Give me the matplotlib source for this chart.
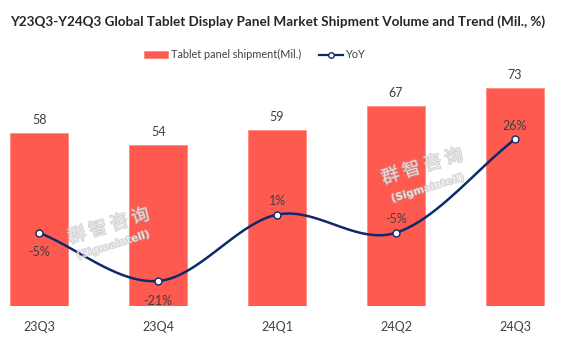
import matplotlib.pyplot as plt
import matplotlib.patheffects as pe
import numpy as np

quarters = ['23Q3', '23Q4', '24Q1', '24Q2', '24Q3']
shipment = [58, 54, 59, 67, 73]
yoy = [-5, -21, 1, -5, 26]

bar_color = '#FF5A4F'
line_color = '#0F2A6B'
text_color = '#404040'
font = 'Lato'


def smooth(xs, ys, n=30):
    # catmull-rom style smoothing, similar to excel's smoothed line
    xs = np.asarray(xs, float)
    ys = np.asarray(ys, float)
    px = np.concatenate([[2 * xs[0] - xs[1]], xs, [2 * xs[-1] - xs[-2]]])
    py = np.concatenate([[2 * ys[0] - ys[1]], ys, [2 * ys[-1] - ys[-2]]])
    outx, outy = [], []
    for i in range(1, len(px) - 2):
        t = np.linspace(0, 1, n)
        for p, out in ((px, outx), (py, outy)):
            p0, p1, p2, p3 = p[i - 1], p[i], p[i + 1], p[i + 2]
            m1 = (p2 - p0) / 2
            m2 = (p3 - p1) / 2
            h = (2 * t**3 - 3 * t**2 + 1) * p1 + (t**3 - 2 * t**2 + t) * m1 \
                + (-2 * t**3 + 3 * t**2) * p2 + (t**3 - t**2) * m2
            out.extend(h)
    return outx, outy


fig = plt.figure(figsize=(5.72, 3.47), dpi=100)
ax = fig.add_axes([0, 0.118, 1, 0.68])
x = np.arange(len(quarters))

ax.bar(x, shipment, width=0.49, color=bar_color, edgecolor='#FF8A80', linewidth=0.6,
       label='Tablet panel shipment(Mil.)', zorder=2)
for xi, v in zip(x, shipment):
    ax.text(xi, v + 2.2, str(v), ha='center', va='bottom', fontsize=9,
            color=text_color, family=font)
ax.set_xlim(-0.33, 4.48)
ax.set_ylim(0, 79)
ax.set_xticks(x)
ax.set_xticklabels(quarters, fontsize=9, color=text_color, family=font)
ax.tick_params(axis='x', length=0, pad=11)
ax.set_yticks([])
for s in ax.spines.values():
    s.set_visible(False)

ax2 = ax.twinx()
sx, sy = smooth(x, yoy)
ax2.plot(sx, sy, color=line_color, lw=1.8, zorder=3)
ax2.plot(x, yoy, 'o', color=line_color, mfc='white', mec=line_color, ms=5, mew=1,
         zorder=4)
ax2.plot([], [], '-o', color=line_color, mfc='white', ms=4, lw=1.6, label='YoY')
ax2.set_ylim(-29.3, 48.9)
ax2.set_yticks([])
for s in ax2.spines.values():
    s.set_visible(False)

offsets = [-6.5, -6.5, 4.5, 4.5, 4.5]
for xi, v, off in zip(x, yoy, offsets):
    ax2.text(xi, v + off, f'{v}%', ha='center', va='center', fontsize=9,
             color=text_color, family=font)

# watermark
for (cx, cy), (sx_, sy_) in (((0.19, 0.348), (0.198, 0.294)), ((0.738, 0.519), (0.748, 0.458))):
    fig.text(cx, cy, '群 智 咨 询', rotation=17, ha='center', va='center',
             fontsize=13, color='white', family='Noto Sans CJK SC', alpha=0.55,
             path_effects=[pe.withStroke(linewidth=1.2, foreground='#a8a8a8')], zorder=5)
    fig.text(sx_, sy_, '(Sigmaintell)', rotation=17, ha='center', va='center',
             fontsize=7.5, color='white', fontweight='bold', alpha=0.55,
             path_effects=[pe.withStroke(linewidth=1.0, foreground='#a8a8a8')], zorder=5)

fig.text(10 / 572, 0.937, 'Y23Q3-Y24Q3 Global Tablet Display Panel Market Shipment Volume and Trend (Mil., %)',
         ha='left', va='center', fontsize=9.7, fontweight='bold', color='#262626',
         family=font)

h1, l1 = ax.get_legend_handles_labels()
h2, l2 = ax2.get_legend_handles_labels()
fig.legend(h1 + h2, l1 + l2, loc='center', bbox_to_anchor=(0.446, 0.842), ncol=2, frameon=False,
           prop={'family': font, 'size': 7.8}, handlelength=2.2, columnspacing=1.6,
           handletextpad=0.3, labelcolor=text_color)

fig.savefig('out.png', dpi=100)
